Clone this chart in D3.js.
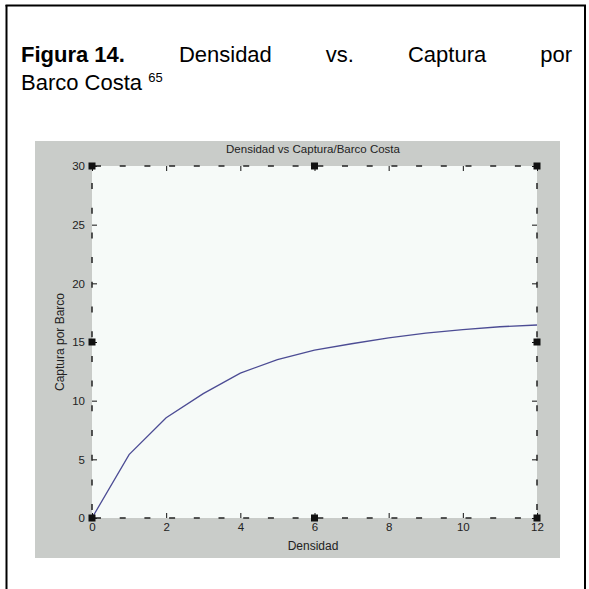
<!DOCTYPE html>
<html>
<head>
<meta charset="utf-8">
<script src="https://cdn.jsdelivr.net/npm/d3@7"></script>
<style>
  html, body { margin: 0; padding: 0; background: #fff; }
  svg { display: block; }
</style>
</head>
<body>
<svg id="page" width="589" height="589"></svg>
<script>
// Density vs. catch per boat (coastal fleet)
const densidad = [0, 1, 2, 3, 4, 5, 6, 7, 8, 9, 10, 11, 12];
const captura  = [0, 5.4, 8.55, 10.6, 12.35, 13.5, 14.3, 14.85, 15.35, 15.75, 16.05, 16.3, 16.45];
const xTicks = [0, 2, 4, 6, 8, 10, 12];
const yTicks = [0, 5, 10, 15, 20, 25, 30];
const handleX = [0, 6, 12];
const handleY = [0, 15, 30];
const captionWords = ["Densidad", "vs.", "Captura", "por"];

const svg = d3.select("#page");
const capFont = "Liberation Sans, Arial, sans-serif";
const font = "Liberation Sans, Arial, sans-serif";

// Page frame
const frame = svg.append("g").attr("stroke", "#000").attr("stroke-width", 2);
frame.append("line").attr("x1", 6.5).attr("y1", 5).attr("x2", 6.5).attr("y2", 589);
frame.append("line").attr("x1", 5.5).attr("y1", 5.5).attr("x2", 586).attr("y2", 5.5);
frame.append("line").attr("x1", 585).attr("y1", 5).attr("x2", 585).attr("y2", 589);

// Caption, first line justified between the margins
const capLeft = 21, capRight = 572, capSize = 22, line1 = 62, line2 = 90;
const capG = svg.append("g").attr("font-family", capFont).attr("font-size", capSize).attr("fill", "#000");
const head = capG.append("text").attr("x", capLeft).attr("y", line1)
  .attr("font-weight", "bold").text("Figura 14.");
const words = capG.selectAll("text.w").data(captionWords).join("text")
  .attr("class", "w").attr("y", line1).text(d => d);
const headW = head.node().getComputedTextLength();
const widths = words.nodes().map(n => n.getComputedTextLength());
const gap = (capRight - capLeft - headW - d3.sum(widths)) / captionWords.length;
let cx = capLeft + headW + gap;
words.each(function(d, i) { d3.select(this).attr("x", cx); cx += widths[i] + gap; });
const cap2 = capG.append("text").attr("x", capLeft).attr("y", line2);
cap2.append("tspan").text("Barco Costa ");
cap2.append("tspan").attr("font-size", 13).attr("dy", -8).text("65");

// Figure window background
svg.append("rect").attr("x", 35).attr("y", 141).attr("width", 525).attr("height", 417)
  .attr("fill", "#c9ccc9");

const x = d3.scaleLinear().domain([0, 12]).range([92, 537]);
const y = d3.scaleLinear().domain([0, 30]).range([518, 166]);

// Axes area
svg.append("rect")
  .attr("x", x(0)).attr("y", y(30))
  .attr("width", x(12) - x(0)).attr("height", y(0) - y(30))
  .attr("fill", "#f6faf8");

function styleAxis(g) {
  g.select(".domain").remove();
  g.selectAll(".tick line").attr("stroke", "#111").attr("stroke-width", 1);
  g.selectAll(".tick text").attr("fill", "#222").attr("font-family", font).attr("font-size", 11.5);
}

svg.append("g").attr("transform", `translate(0,${y(0)})`)
  .call(d3.axisBottom(x).tickValues(xTicks).tickSize(-5).tickPadding(5).tickFormat(d3.format("d")))
  .call(styleAxis);
svg.append("g").attr("transform", `translate(0,${y(30)})`)
  .call(d3.axisTop(x).tickValues(xTicks).tickSize(-5).tickFormat(""))
  .call(styleAxis);
svg.append("g").attr("transform", `translate(${x(0)},0)`)
  .call(d3.axisLeft(y).tickValues(yTicks).tickSize(-5).tickPadding(7).tickFormat(d3.format("d")))
  .call(styleAxis);
svg.append("g").attr("transform", `translate(${x(12)},0)`)
  .call(d3.axisRight(y).tickValues(yTicks).tickSize(-5).tickFormat(""))
  .call(styleAxis);

// Dashed selection box around the axes
const box = svg.append("g").attr("stroke", "#222").attr("stroke-width", 1.5)
  .attr("stroke-dasharray", "6 18.7").attr("fill", "none");
box.append("line").attr("x1", x(0)).attr("y1", y(30)).attr("x2", x(12)).attr("y2", y(30)).attr("stroke-dashoffset", -3);
box.append("line").attr("x1", x(0)).attr("y1", y(0)).attr("x2", x(12)).attr("y2", y(0)).attr("stroke-dashoffset", -3);
box.append("line").attr("x1", x(0)).attr("y1", y(30)).attr("x2", x(0)).attr("y2", y(0)).attr("stroke-dashoffset", -17);
box.append("line").attr("x1", x(12)).attr("y1", y(30)).attr("x2", x(12)).attr("y2", y(0)).attr("stroke-dashoffset", -17);

// Data curve
svg.append("path")
  .datum(densidad.map((d, i) => [d, captura[i]]))
  .attr("fill", "none")
  .attr("stroke", "#4c4c94")
  .attr("stroke-width", 1.3)
  .attr("d", d3.line().x(d => x(d[0])).y(d => y(d[1])));

// Selection handles
const handles = [];
handleX.forEach(hx => handleY.forEach(hy => {
  if (!(hx === 6 && hy === 15)) handles.push([hx, hy]);
}));
svg.append("g").selectAll("rect").data(handles).join("rect")
  .attr("x", d => x(d[0]) - 3.5).attr("y", d => y(d[1]) - 3.5)
  .attr("width", 7).attr("height", 7).attr("fill", "#111");

// Titles
svg.append("text").attr("x", 313).attr("y", 153).attr("text-anchor", "middle")
  .attr("font-family", font).attr("font-size", 11.5).attr("fill", "#222")
  .text("Densidad vs Captura/Barco Costa");
svg.append("text").attr("x", 313).attr("y", 550).attr("text-anchor", "middle")
  .attr("font-family", font).attr("font-size", 12).attr("fill", "#222")
  .text("Densidad");
svg.append("text").attr("transform", "translate(64,342) rotate(-90)").attr("text-anchor", "middle")
  .attr("font-family", font).attr("font-size", 12).attr("fill", "#222")
  .text("Captura por Barco");
</script>
</body>
</html>
